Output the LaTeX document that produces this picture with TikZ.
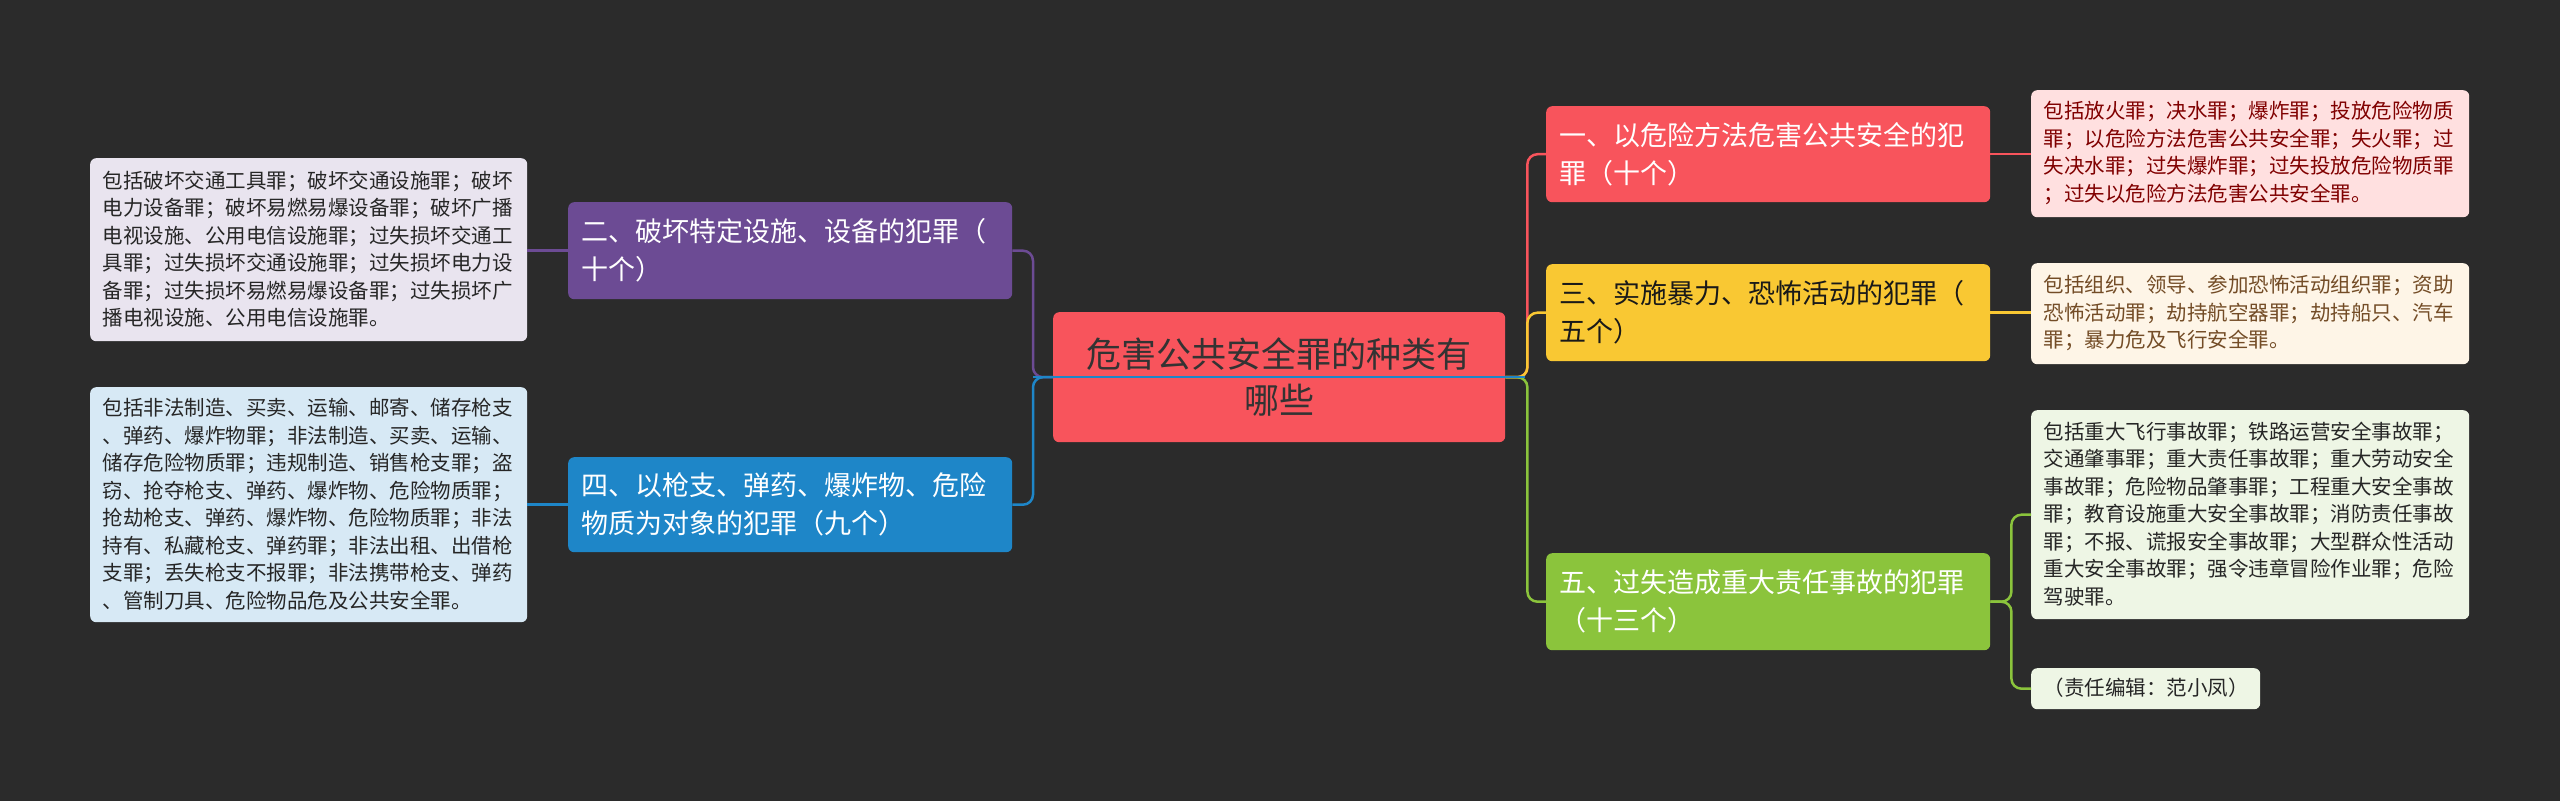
\documentclass[tikz,border=0pt]{standalone}
\usepackage{fontspec}
\setmainfont{Noto Sans CJK SC}
\begin{document}
\begin{tikzpicture}[x=1pt,y=-1pt,
  box/.style={rounded corners=6pt,inner sep=0pt,align=left,anchor=north west,font=\fontsize{27}{38}\selectfont,text=white},
  leaf/.style={rounded corners=6pt,inner sep=0pt,align=left,anchor=north west,font=\fontsize{20.5}{27.5}\selectfont,text=black!85},
  conn/.style={line width=2.5pt,rounded corners=10pt}]
\definecolor{bg}{HTML}{2B2B2B}
\definecolor{cred}{HTML}{F8545C}
\definecolor{cpur}{HTML}{6C4B94}
\definecolor{cblu}{HTML}{1E86C8}
\definecolor{cyel}{HTML}{F9C833}
\definecolor{cgrn}{HTML}{8BC43C}
\fill[bg] (0,0) rectangle (2560,801);
\useasboundingbox (0,0) rectangle (2560,801);
% center
\node[box,fill=cred,minimum width=452pt,minimum height=130pt,anchor=north west,align=center,text=black!80,font=\fontsize{35}{46}\selectfont] (c) at (1053,312) {危害公共安全罪的种类有\\哪些};
% branches
\node[box,fill=cred,minimum width=444pt,minimum height=96pt] (n1) at (1546,106) {};
\node[anchor=west,align=left,text=white,font=\fontsize{27}{38}\selectfont] at (1556,154) {一、以危险方法危害公共安全的犯\\罪（十个）};
\node[box,fill=cyel,minimum width=444pt,minimum height=97pt] (n3) at (1546,264) {};
\node[anchor=west,align=left,text=black!90,font=\fontsize{27}{38}\selectfont] at (1556,312) {三、实施暴力、恐怖活动的犯罪（\\五个）};
\node[box,fill=cgrn,minimum width=444pt,minimum height=97pt] (n5) at (1546,553) {};
\node[anchor=west,align=left,text=white,font=\fontsize{27}{38}\selectfont] at (1556,601) {五、过失造成重大责任事故的犯罪\\（十三个）};
\node[box,fill=cpur,minimum width=444pt,minimum height=97pt] (n2) at (568,202) {};
\node[anchor=west,align=left,text=white,font=\fontsize{27}{38}\selectfont] at (578,250) {二、破坏特定设施、设备的犯罪（\\十个）};
\node[box,fill=cblu,minimum width=444pt,minimum height=95pt] (n4) at (568,457) {};
\node[anchor=west,align=left,text=white,font=\fontsize{27}{38}\selectfont] at (578,504) {四、以枪支、弹药、爆炸物、危险\\物质为对象的犯罪（九个）};
% leaves
\node[leaf,fill=red!12,minimum width=438pt,minimum height=127pt] (l1) at (2031,90) {};
\node[anchor=west,align=left,text=red!50!black,font=\fontsize{20.5}{27.5}\selectfont] at (2040,153) {包括放火罪；决水罪；爆炸罪；投放危险物质\\罪；以危险方法危害公共安全罪；失火罪；过\\失决水罪；过失爆炸罪；过失投放危险物质罪\\；过失以危险方法危害公共安全罪。};
\node[leaf,fill=yellow!8!orange!8!white,minimum width=438pt,minimum height=101pt] (l3) at (2031,263) {};
\node[anchor=west,align=left,text=brown!60!black,font=\fontsize{20.5}{27.5}\selectfont] at (2040,313) {包括组织、领导、参加恐怖活动组织罪；资助\\恐怖活动罪；劫持航空器罪；劫持船只、汽车\\罪；暴力危及飞行安全罪。};
\node[leaf,fill=green!30!olive!10!white,minimum width=438pt,minimum height=209pt] (l5) at (2031,410) {};
\node[anchor=west,align=left,text=black!85,font=\fontsize{20.5}{27.5}\selectfont] at (2040,514) {包括重大飞行事故罪；铁路运营安全事故罪；\\交通肇事罪；重大责任事故罪；重大劳动安全\\事故罪；危险物品肇事罪；工程重大安全事故\\罪；教育设施重大安全事故罪；消防责任事故\\罪；不报、谎报安全事故罪；大型群众性活动\\重大安全事故罪；强令违章冒险作业罪；危险\\驾驶罪。};
\node[leaf,fill=green!30!olive!10!white,minimum width=229pt,minimum height=41pt] (le) at (2031,668) {};
\node[anchor=west,text=black!85,font=\fontsize{20.5}{27.5}\selectfont] at (2040,688) {（责任编辑：范小凤）};
\node[leaf,fill=cpur!15!white,minimum width=437pt,minimum height=183pt] (l2) at (90,158) {};
\node[anchor=west,align=left,text=black!85,font=\fontsize{20.5}{27.5}\selectfont] at (99,249) {包括破坏交通工具罪；破坏交通设施罪；破坏\\电力设备罪；破坏易燃易爆设备罪；破坏广播\\电视设施、公用电信设施罪；过失损坏交通工\\具罪；过失损坏交通设施罪；过失损坏电力设\\备罪；过失损坏易燃易爆设备罪；过失损坏广\\播电视设施、公用电信设施罪。};
\node[leaf,fill=cblu!18!white,minimum width=437pt,minimum height=235pt] (l4) at (90,387) {};
\node[anchor=west,align=left,text=black!85,font=\fontsize{20.5}{27.5}\selectfont] at (99,504) {包括非法制造、买卖、运输、邮寄、储存枪支\\、弹药、爆炸物罪；非法制造、买卖、运输、\\储存危险物质罪；违规制造、销售枪支罪；盗\\窃、抢夺枪支、弹药、爆炸物、危险物质罪；\\抢劫枪支、弹药、爆炸物、危险物质罪；非法\\持有、私藏枪支、弹药罪；非法出租、出借枪\\支罪；丢失枪支不报罪；非法携带枪支、弹药\\、管制刀具、危险物品危及公共安全罪。};
% connectors
\draw[conn,cred] (c.east) -- ++(22,0) |- (n1.west);
\draw[conn,cyel] (c.east) -- ++(22,0) |- (n3.west);
\draw[conn,cgrn] (c.east) -- ++(22,0) |- (n5.west);
\draw[conn,cpur] (c.west) -- ++(-20,0) |- (n2.east);
\draw[conn,cblu] (c.west) -- ++(-20,0) |- (n4.east);
\draw[line width=2.5pt,cblu] ([xshift=-20]c.west) -- ([xshift=20]c.east);
\draw[conn,cred] (n1.east) -- (l1.west |- n1.east);
\draw[conn,cyel] (n3.east) -- (l3.west |- n3.east);
\draw[conn,cgrn] (n5.east) -- ++(21,0) |- (l5.west);
\draw[conn,cgrn] (n5.east) -- ++(21,0) |- (le.west);
\draw[conn,cpur] (n2.west) -- (l2.east |- n2.west);
\draw[conn,cblu] (n4.west) -- (l4.east |- n4.west);
\end{tikzpicture}
\end{document}
